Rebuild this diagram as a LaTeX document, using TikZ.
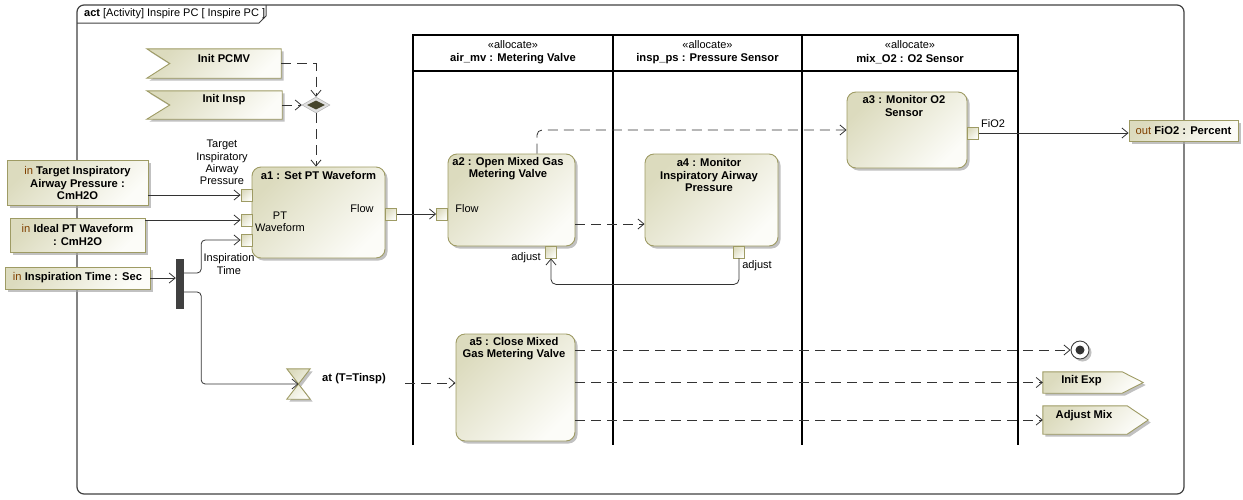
\documentclass[tikz,border=0pt]{standalone}
\usepackage{fontspec}
\setmainfont{Liberation Sans}
\usetikzlibrary{arrows.meta,shadows,calc,shapes.geometric}
\definecolor{olivedge}{RGB}{158,155,100}
\definecolor{khaki}{RGB}{220,219,190}
\definecolor{paleend}{RGB}{252,252,248}
\definecolor{kwbrown}{RGB}{128,64,0}
\definecolor{framegray}{RGB}{64,64,64}
\definecolor{edgegray}{RGB}{51,51,51}
\begin{document}
\begin{tikzpicture}[x=1pt,y=-1pt,
  gfill/.style={top color=khaki, bottom color=paleend, shading angle=45},
  shad/.style={drop shadow={shadow xshift=2.5pt, shadow yshift=-2.5pt, fill=black!35, opacity=0.7}},
  action/.style 2 args={draw=olivedge, line width=0.9pt, rounded corners=9pt, gfill, shad, inner sep=0, minimum width=#1, minimum height=#2},
  param/.style 2 args={draw=olivedge, line width=0.9pt, gfill, shad, inner sep=0, minimum width=#1, minimum height=#2},
  ghost/.style 2 args={inner sep=0, minimum width=#1, minimum height=#2},
  sig/.style={draw=olivedge, line width=0.9pt, gfill, shad},
  pinbox/.style={draw=olivedge, line width=0.8pt, gfill, inner sep=0, minimum width=11pt, minimum height=12pt},
  bt/.style={font=\fontsize{11.2}{12.2}\selectfont\bfseries, text=black, inner sep=0, align=center},
  rt/.style={font=\fontsize{11}{12.2}\selectfont, text=black, inner sep=0, align=center},
  flow/.style={draw=edgegray, line width=0.8pt, -{Straight Barb[length=6pt,width=10pt,line width=0.8pt]}},
  ctrl/.style={flow, dash pattern=on 10pt off 6pt},
  lane/.style={draw=black, line width=2.3pt},
]
\useasboundingbox (0,0) rectangle (1243,499);
% frame
\draw[framegray, line width=1.2pt, rounded corners=7pt] (77,5) rectangle (1184,494);
\draw[framegray, line width=1pt] (77,23) -- (259,23) -- (266,16) -- (266,5);
\node[rt, anchor=west] (title) at (84,14) {\textbf{act} [Activity] Inspire PC [ Inspire PC ]};
% lanes
\draw[lane, line join=miter] (413,445) -- (413,35) -- (1018,35) -- (1018,445);
\draw[lane] (613,35) -- (613,445);
\draw[lane] (802,35) -- (802,445);
\draw[lane] (413,71) -- (1018,71);
\node[rt] (s1) at (513,45) {«allocate»};
\node[bt] (n1) at (513,59) {air\_mv : Metering Valve};
\node[rt] (s2) at (707.5,45) {«allocate»};
\node[bt] (n2) at (707.5,59) {insp\_ps : Pressure Sensor};
\node[rt] (s3) at (910,45) {«allocate»};
\node[bt] (n3) at (910,59) {mix\_O2 : O2 Sensor};
% accept signals
\node[ghost={134pt}{29pt}] (pcmv) at (214,63.5) {};
\path[sig] (pcmv.north west) -- (pcmv.north east) -- (pcmv.south east) -- (pcmv.south west) -- ($(pcmv.west)+(23,0)$) -- cycle;
\node[bt] (pcmvt) at (224,58) {Init PCMV};
\node[ghost={135pt}{28pt}] (insp) at (214.5,105) {};
\path[sig] (insp.north west) -- (insp.north east) -- (insp.south east) -- (insp.south west) -- ($(insp.west)+(23,0)$) -- cycle;
\node[bt] (inspt) at (224,100) {Init Insp};
% merge
\node[diamond, draw=black!35, fill=black!12, inner sep=0, minimum width=28pt, minimum height=16pt] (merge) at (316,105) {};
\node[diamond, fill=black!55!olivedge, inner sep=0, minimum width=18pt, minimum height=9pt] (mergein) at (316,105) {};
% parameters
\node[param={141pt}{45pt}, bt] (tiap) at (77.5,183) {{\mdseries\color{kwbrown}in} Target Inspiratory\\Airway Pressure :\\CmH2O};
\node[param={135pt}{34pt}, bt] (ideal) at (77.5,235) {{\mdseries\color{kwbrown}in} Ideal PT Waveform\\: CmH2O};
\node[param={145pt}{22pt}, bt] (itime) at (77.5,278) {{\mdseries\color{kwbrown}in} Inspiration Time : Sec};
\node[param={109pt}{21pt}, bt] (outfio) at (1183.5,130.5) {{\mdseries\color{kwbrown}out} FiO2 : Percent};
% fork
\node[fill=framegray, inner sep=0, minimum width=8pt, minimum height=50pt] (fork) at (180,284) {};
% actions
\node[action={133pt}{91pt}] (a1) at (318.5,212.5) {};
\node[bt] (a1t) at (318.5,175) {a1 : Set PT Waveform};
\node[pinbox] (a1p1) at (246.5,195) {};
\node[pinbox] (a1p2) at (246.5,220) {};
\node[pinbox] (a1p3) at (246.5,240) {};
\node[pinbox] (a1pf) at (391,214) {};
\node[action={127pt}{92pt}] (a2) at (511.5,200) {};
\node[bt] (a2t) at (508,169) {a2 : Open Mixed Gas\\Metering Valve};
\node[pinbox] (a2pf) at (442,214) {};
\node[pinbox] (a2pa) at (551,252) {};
\node[action={133pt}{92pt}] (a4) at (711.5,200) {};
\node[bt] (a4t) at (709,175) {a4 : Monitor\\Inspiratory Airway\\Pressure};
\node[pinbox] (a4pa) at (739,252) {};
\node[action={120pt}{76pt}] (a3) at (907,130) {};
\node[bt] (a3t) at (904,106) {a3 : Monitor O2\\Sensor};
\node[pinbox] (a3pf) at (973,133) {};
\node[action={119pt}{107pt}] (a5) at (515.5,387.5) {};
\node[bt] (a5t) at (514,349) {a5 : Close Mixed\\Gas Metering Valve};
% time event
\node[ghost={23pt}{30pt}] (hglass) at (298.5,384) {};
\path[sig] (hglass.north west) -- (hglass.north east) -- (hglass.south west) -- (hglass.south east) -- cycle;
\node[bt, anchor=west] (tlabel) at (322,379) {at (T=Tinsp)};
\coordinate (tout) at (405,383);
% final
\node[circle, draw=framegray, line width=0.9pt, fill=white, inner sep=0, minimum size=18pt, shad] (final) at (1080,350) {};
\node[circle, fill=edgegray, inner sep=0, minimum size=9pt] (finaldot) at (final) {};
% send signals
\node[ghost={100pt}{21pt}] (iexp) at (1093,382.5) {};
\path[sig] (iexp.north west) -- ($(iexp.north east)+(-21,0)$) -- (iexp.east) -- ($(iexp.south east)+(-21,0)$) -- (iexp.south west) -- cycle;
\node[bt] (iexpt) at (1081.5,380.5) {Init Exp};
\node[ghost={105pt}{28pt}] (amix) at (1095.5,420) {};
\path[sig] (amix.north west) -- ($(amix.north east)+(-21,0)$) -- (amix.east) -- ($(amix.south east)+(-21,0)$) -- (amix.south west) -- cycle;
\node[bt] (amixt) at (1084,415.5) {Adjust Mix};
% pin labels
\node[rt] (lbl1) at (222,162.5) {Target\\Inspiratory\\Airway\\Pressure};
\node[rt] (lbl2) at (280,222) {PT\\Waveform};
\node[rt] (lbl3) at (229,264) {Inspiration\\Time};
\node[rt] (lbl4) at (362,209) {Flow};
\node[rt] (lbl5) at (467,209) {Flow};
\node[rt] (lbl6) at (526,258) {adjust};
\node[rt] (lbl7) at (757,266) {adjust};
\node[rt] (lbl8) at (993,124) {FiO2};
% edges
\draw[ctrl] (pcmv.east) -| (merge.north);
\draw[ctrl] (insp.east) -- (merge.west);
\draw[ctrl] (merge.south) -- (merge.south |- a1.north);
\draw[flow] (tiap.east |- a1p1) -- (a1p1.west);
\draw[flow] (ideal.east |- a1p2) -- (a1p2.west);
\draw[flow] (itime.east) -- (itime.east -| fork.west);
\draw[flow, rounded corners=4pt] ([yshift=11pt]fork.east) -- ++(17,0) |- (a1p3.west);
\draw[flow, rounded corners=4pt] ([yshift=-8pt]fork.east) -- ++(17,0) |- (hglass.center);
\draw[ctrl] (tout) -- (tout -| a5.west);
\draw[flow] (a1pf.east) -- (a2pf.west);
\draw[ctrl] ([yshift=-24pt]a2.east) -- ([yshift=-24pt]a4.west);
\draw[flow, rounded corners=5pt] (a4pa.south) -- ++(0,26) -| (a2pa.south);
\draw[ctrl, rounded corners=5pt] ([xshift=25.5pt]a2.north) |- (a3.west);
\draw[flow] (a3pf.east) -- (a3pf.east -| outfio.west);
\draw[ctrl] (a5.east |- final.west) -- (final.west);
\draw[ctrl] (a5.east |- iexp.west) -- (iexp.west);
\draw[ctrl] (a5.east |- amix.west) -- (amix.west);
\end{tikzpicture}
\end{document}
